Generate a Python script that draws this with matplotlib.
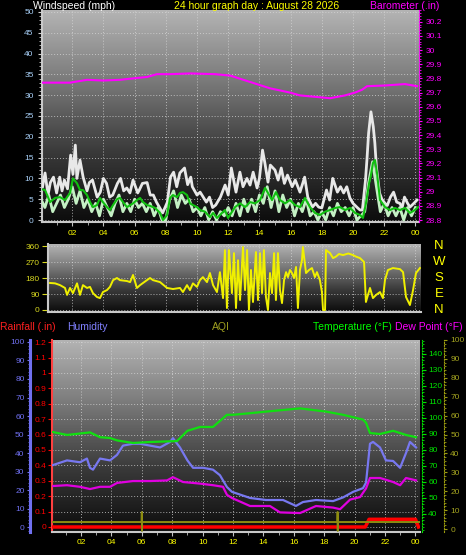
import matplotlib
matplotlib.use('Agg')
import matplotlib.pyplot as plt
import numpy as np
from matplotlib.colors import LinearSegmentedColormap
from matplotlib.ticker import MultipleLocator
import matplotlib.transforms as mtransforms

plt.rcParams['font.family'] = ['Liberation Sans', 'DejaVu Sans']

# ---------------- DATA ----------------
hour_ticks = [2, 4, 6, 8, 10, 12, 14, 16, 18, 20, 22, 24]
hour_labels = ['02', '04', '06', '08', '10', '12', '14', '16', '18', '20', '22', '00']

gust_h = [0.1, 0.26, 0.45, 0.6, 0.8, 1.0, 1.2, 1.35, 1.5, 1.7,
          1.9, 2.05, 2.2, 2.3, 2.5, 2.7, 2.95, 3.1, 3.3, 3.6,
          3.8, 4.0, 4.2, 4.4, 4.6, 4.9, 5.1, 5.3, 5.5, 5.7,
          5.9, 6.2, 6.3, 6.5, 6.8, 7.0, 7.2, 7.4, 7.6, 7.8,
          8.1, 8.3, 8.5, 8.7, 8.9, 9.2, 9.4, 9.6, 9.7, 10.0,
          10.2, 10.4, 10.6, 10.8, 11.0, 11.2, 11.5, 11.8, 12.0, 12.2,
          12.5, 12.75, 12.95, 13.2, 13.4, 13.6, 13.85, 14.0, 14.2, 14.35,
          14.55, 14.7, 15.0, 15.2, 15.4, 15.6, 15.8, 16.1, 16.3, 16.6,
          16.9, 17.1, 17.4, 17.6, 17.8, 18.0, 18.3, 18.5, 18.7, 19.0,
          19.2, 19.4, 19.6, 19.8, 20.0, 20.3, 20.45, 20.6, 20.8, 20.9,
          21.0, 21.15, 21.3, 21.4, 21.5, 21.7, 21.85, 22.05, 22.2, 22.4,
          22.6, 22.8, 23.0, 23.15, 23.3, 23.5, 23.65, 23.9, 24.1]
gust_mph = [8, 11.3, 6, 9, 10.3, 6.5, 10.3, 7, 9.6, 7.5,
            15.6, 11, 18, 10, 14.4, 10.3, 7, 9, 9.6, 5.5,
            6.7, 10, 8.8, 5.5, 6, 8.8, 10, 7, 7.7, 6.5,
            9.6, 6.5, 7.2, 8.8, 9, 6, 6, 4.3, 3, 1.7,
            4.3, 10.3, 11.5, 8, 11.3, 12.5, 8.5, 10.3, 8, 6,
            6.7, 5.5, 4.3, 5.5, 3, 3.6, 5.5, 8.4, 6, 12.5,
            6.7, 11.5, 8, 10, 8.4, 11.5, 7.7, 10, 16.8, 13.7,
            9.1, 13.2, 12, 9.6, 12.5, 8.8, 10.8, 8, 9.6, 6.7,
            10.3, 5.5, 3.1, 4, 3.1, 2.9, 7.2, 4.8, 10, 6.7,
            8, 6.5, 8, 5.3, 4, 2.9, 2.4, 2.4, 9.6, 14.9,
            20.9, 26, 22.4, 18.5, 12.7, 6.5, 5, 4, 3.5, 5.5,
            6.7, 4.3, 4, 3, 5.5, 4, 3.1, 4, 4.8]

speed_h = [0, 0.25, 0.5, 0.75, 1, 1.25, 1.5, 1.75, 2, 2.25,
           2.5, 2.75, 3, 3.25, 3.5, 3.75, 4, 4.25, 4.5, 4.75,
           5, 5.25, 5.5, 5.75, 6, 6.25, 6.5, 6.75, 7, 7.25,
           7.5, 7.75, 8, 8.25, 8.5, 8.75, 9, 9.25, 9.5, 9.75,
           10, 10.25, 10.5, 10.75, 11, 11.25, 11.5, 11.75, 12, 12.25,
           12.5, 12.75, 13, 13.25, 13.5, 13.75, 14, 14.25, 14.5, 14.75,
           15, 15.25, 15.5, 15.75, 16, 16.25, 16.5, 16.75, 17, 17.25,
           17.5, 17.75, 18, 18.25, 18.5, 18.75, 19, 19.25, 19.5, 19.75,
           20, 20.25, 20.5, 20.75, 21, 21.25, 21.5, 21.75, 22, 22.25,
           22.5, 22.75, 23, 23.25, 23.5, 23.75, 24]
speed_mph = [5, 3, 6, 2, 4, 6, 3, 5, 8, 4,
             7, 3, 5, 2, 4, 1, 5, 3, 1, 4,
             6, 2, 4, 2, 5, 3, 4, 2, 4, 1,
             3, 0, 0, 5, 7, 3, 6, 4, 5, 2,
             3, 1, 3, 0, 2, 0, 2, 1, 3, 1,
             4, 1, 5, 2, 5, 2, 6, 4, 8, 3,
             7, 2, 6, 3, 5, 1, 4, 2, 5, 1,
             2, 0, 2, 0, 3, 1, 4, 2, 3, 1,
             3, 0, 1, 2, 9, 14, 8, 2, 4, 1,
             3, 1, 3, 0, 3, 1, 3]

avg_h = [0.05, 0.26, 0.58, 0.9, 1.22, 1.54, 1.86, 2.05, 2.31, 2.5,
         2.69, 2.95, 3.14, 3.33, 3.59, 3.78, 3.97, 4.23, 4.42, 4.62,
         4.87, 5.06, 5.26, 5.51, 5.9, 6.15, 6.35, 6.54, 6.79, 6.99,
         7.31, 7.63, 7.82, 8.08, 8.27, 8.46, 8.72, 8.91, 9.1, 9.36,
         9.55, 9.74, 10.0, 10.19, 10.51, 10.83, 11.03, 11.28, 11.47, 11.79,
         11.99, 12.44, 12.76, 13.08, 13.4, 13.72, 14.04, 14.36, 14.55, 14.81,
         15.06, 15.32, 15.64, 15.96, 16.28, 16.6, 16.92, 17.24, 17.56, 17.88,
         18.21, 18.53, 18.85, 19.17, 19.49, 19.81, 20.13, 20.45, 20.64, 20.83,
         21.03, 21.15, 21.28, 21.41, 21.54, 21.73, 22.05, 22.37, 22.69, 23.01,
         23.33, 23.65, 23.97, 24.17]
avg_mph = [7.4, 7.2, 4.3, 5.3, 5.5, 4.8, 6.5, 10, 8.8, 7.2,
           7.2, 6, 4.3, 3.1, 3.6, 5.3, 4.3, 3.1, 2.4, 3.6,
           5, 5.3, 4.3, 3.1, 4, 4.8, 5.3, 4.3, 3.6, 3.4,
           2.9, 1.7, 0, 1.2, 5.3, 6, 5.5, 6.5, 6.7, 6,
           4, 3.6, 3.1, 2.4, 2, 0.7, 1.7, 0.5, 1.2, 2.4,
           0.5, 3.1, 4, 3.1, 4.3, 4, 4.8, 7.7, 6.5, 4.8,
           6.7, 4.8, 4, 4.8, 3.6, 3.1, 5.3, 3.1, 1.7, 1.2,
           2, 2.4, 2.9, 3.1, 2.4, 2.9, 1.7, 1.2, 0.5, 4,
           8.8, 10.8, 13.7, 14.4, 11.3, 4.8, 3.1, 2.4, 2.9, 2.4,
           2.9, 1.7, 2.4, 3.1]

baro_h = [0.13, 1.86, 2.95, 3.97, 5.06, 5.9, 6.79, 7.44, 8.27, 9.55,
          11.15, 12.12, 13.4, 14.68, 15.96, 16.6, 17.56, 18.53, 19.49, 20.13,
          20.58, 20.9, 22.05, 23.33, 24.1]
baro_in = [29.77, 29.77, 29.79, 29.785, 29.79, 29.80, 29.81, 29.83, 29.83, 29.835,
           29.83, 29.82, 29.775, 29.73, 29.70, 29.68, 29.67, 29.66, 29.68, 29.70,
           29.72, 29.745, 29.75, 29.76, 29.745]

dir_h = [0.58, 0.9, 1.22, 1.54, 1.67, 1.86, 2.05, 2.31, 2.5, 2.69,
         2.95, 3.14, 3.33, 3.59, 3.78, 3.97, 4.23, 4.42, 4.62, 4.87,
         5.06, 5.51, 5.71, 5.9, 6.15, 6.35, 6.79, 6.99, 7.18, 7.63,
         8.08, 8.46, 8.91, 9.1, 9.36, 9.55, 9.74, 10.0, 10.19, 10.38,
         10.64, 10.83, 11.03, 11.28, 11.47, 11.67, 11.79, 11.92, 12.05, 12.24,
         12.37, 12.5, 12.63, 12.76, 12.95, 13.08, 13.21, 13.33, 13.46, 13.59,
         13.78, 13.91, 14.04, 14.17, 14.29, 14.42, 14.55, 14.68, 14.81, 14.94,
         15.06, 15.19, 15.32, 15.45, 15.58, 15.71, 15.83, 15.96, 16.09, 16.22,
         16.35, 16.47, 16.6, 16.73, 16.79, 16.99, 17.18, 17.37, 17.56, 17.69,
         17.88, 18.01, 18.08, 18.21, 18.27, 18.53, 18.72, 18.9, 19.1, 19.36,
         19.7, 20.0, 20.2, 20.45, 20.71, 20.83, 21.09, 21.28, 21.47, 21.73,
         21.92, 22.05, 22.24, 22.56, 23.01, 23.21, 23.4, 23.65, 23.85, 24.04,
         24.29]
dir_deg = [152, 150, 140, 124, 85, 124, 95, 150, 85, 140,
           124, 130, 95, 73, 67, 101, 112, 130, 168, 180,
           168, 163, 157, 197, 124, 140, 168, 180, 168, 157,
           124, 118, 124, 101, 140, 112, 150, 130, 168, 185,
           157, 208, 140, 101, 213, 67, 337, 11, 337, 95,
           320, 11, 280, 56, 354, 112, 337, 0, 225, 45,
           326, 56, 320, 95, 337, 73, 0, 208, 95, 320,
           56, 320, 112, 39, 168, 213, 185, 225, 208, 180,
           242, 11, 225, 281, 354, 208, 225, 236, 185, 213,
           168, 101, 0, 0, 337, 320, 292, 300, 315, 309,
           318, 309, 300, 292, 270, 45, 124, 67, 84, 101,
           67, 168, 225, 236, 230, 213, 73, 28, 112, 208,
           236]
compass_labels = ['N', 'W', 'S', 'E', 'N']
compass_deg = [360, 270, 180, 90, 0]

temp_h = [0.16, 1.08, 2.59, 3.25, 3.91, 4.37, 5.42, 6.54, 8.32, 9.0,
          9.83, 10.68, 11.6, 12.0, 13.12, 14.17, 16.41, 18.12, 19.24, 20.55,
          20.75, 21.01, 21.67, 22.53, 23.38, 24.04]
temp_f = [91.2, 89.4, 91, 88, 87.5, 86, 84.4, 85, 85.6, 92,
          94.4, 94.4, 102, 102, 103, 104, 106, 104, 102, 99,
          97, 90.6, 90, 92, 89.4, 88]

dew_h = [0.16, 1.08, 1.93, 2.59, 3.25, 3.91, 4.37, 5.42, 6.54, 7.66,
         8.05, 8.71, 9.83, 10.68, 11.34, 11.6, 11.93, 13.12, 14.43, 15.09,
         16.41, 17.46, 18.58, 19.04, 19.7, 20.36, 20.75, 21.01, 21.67, 22.53,
         22.99, 23.38, 24.04]
dew_f = [57.5, 58, 57, 55.6, 57, 57, 59.4, 60.6, 60.6, 61,
         63, 60, 59, 58, 57, 52, 50, 45, 45, 41,
         40.6, 45, 44, 43, 49, 50.6, 56, 62.5, 62.5, 60,
         58, 62.5, 61]

hum_h = [0.16, 1.08, 1.93, 2.39, 2.59, 2.79, 3.25, 3.91, 4.37, 4.76,
         5.42, 5.88, 6.54, 7.2, 7.86, 8.05, 8.51, 9.0, 9.37, 10.03,
         10.68, 11.14, 11.6, 11.93, 13.12, 14.17, 15.29, 16.14, 16.6, 17.46,
         18.58, 19.24, 19.9, 20.55, 20.75, 21.01, 21.21, 21.67, 22.06, 22.53,
         22.99, 23.38, 23.64, 24.04]
hum_pct = [33.5, 36, 35, 37, 32, 31, 37, 36, 39, 44,
           45, 45, 44, 43, 46, 48, 43, 36, 32, 32,
           31, 28, 21.6, 19, 15.7, 14.6, 14.6, 11.4, 13.5, 14.6,
           14, 16, 19, 21, 24, 45, 46, 43, 36, 35.7,
           32, 40, 46, 43]

rain_h = [0.1, 20.7, 20.95, 24.0, 24.2]
rain_in = [0, 0, 0.05, 0.05, 0.0]

aqi_h = [0.1, 5.99, 6.0, 6.01, 6.02, 18.87, 18.88, 18.89, 18.9, 24.3]
aqi_val = [3.7, 3.7, 9, -1, 3.7, 3.7, 9, -1, 3.7, 3.7]

# ---------------- FIGURE ----------------
W, H = 466, 555
fig = plt.figure(figsize=(W / 100, H / 100), dpi=100, facecolor='black')


def rect(x0, y0, x1, y1):
    return [x0 / W, 1 - y1 / H, (x1 - x0) / W, (y1 - y0) / H]


gcmap = LinearSegmentedColormap.from_list('g', ['#0c0c0c', '#3a3a3a', '#7a7a7a', '#b4b4b4'])


def background(ax):
    grad = np.linspace(0, 1, 256).reshape(-1, 1)
    ax.imshow(grad, extent=[0, 1, 0, 1], transform=ax.transAxes, origin='lower',
              aspect='auto', cmap=gcmap, zorder=0)
    ax.set_facecolor('black')


GRID = dict(color='#d8d8d8', linestyle=(0, (1, 2)), linewidth=0.7, alpha=0.75)
TICKFONT = 6

# ---- top panel: wind + barometer ----
ax1 = fig.add_axes(rect(42, 10, 419, 222))
background(ax1)
ax1.set_xlim(0.064, 24.23)
ax1.set_ylim(-0.48, 50.48)
ax1.plot(gust_h, gust_mph, color='#e8e8e8', lw=2.0, zorder=3)
ax1.plot(speed_h, speed_mph, color='#c4f0c4', lw=2.0, zorder=4)
ax1.plot(avg_h, avg_mph, color='#10c010', lw=1.5, zorder=5)
ax1.set_yticks(range(0, 51, 5))
ax1.yaxis.set_minor_locator(MultipleLocator(1))
ax1.set_xticks(hour_ticks)
ax1.set_xticklabels(hour_labels)
ax1.xaxis.set_minor_locator(MultipleLocator(1))
ax1.tick_params(axis='y', which='major', colors='#d0d0d0', labelcolor='#a8d0f8',
                labelsize=TICKFONT, length=3, pad=3)
ax1.tick_params(axis='y', which='minor', colors='#d0d0d0', length=2)
ax1.tick_params(axis='x', which='major', colors='#c0c0c0', labelcolor='#ffff00',
                labelsize=TICKFONT, length=3, pad=2.5)
ax1.tick_params(axis='x', which='minor', colors='#c0c0c0', length=2)
for s in ['top', 'right']:
    ax1.spines[s].set_visible(False)
for s in ['left', 'bottom']:
    ax1.spines[s].set_color('#c8c8c8')
    ax1.spines[s].set_linewidth(1.5)
ax1.grid(True, which='major', **GRID)
ax1.set_axisbelow(False)

ax1b = ax1.twinx()
ax1b.set_ylim(28.786, 30.283)
ax1b.plot(baro_h, baro_in, color='#ff00ff', lw=1.5, zorder=6)
baro_ticks = [28.8, 28.9, 29.0, 29.1, 29.2, 29.3, 29.4, 29.5, 29.6, 29.7, 29.8, 29.9, 30.0, 30.1, 30.2]
ax1b.set_yticks(baro_ticks)
ax1b.set_yticklabels(['%g' % t for t in baro_ticks])
ax1b.yaxis.set_minor_locator(MultipleLocator(0.02))
ax1b.tick_params(axis='y', which='major', colors='#ff00ff', labelcolor='#ff00ff',
                 labelsize=TICKFONT, length=2, pad=2.5)
ax1b.tick_params(axis='y', which='minor', colors='#ff00ff', length=1.2)
for s in ['top', 'left', 'bottom']:
    ax1b.spines[s].set_visible(False)
ax1b.spines['right'].set_color('#ff00ff')
ax1b.spines['right'].set_linestyle((0, (1, 1.5)))

# ---- direction panel ----
ax2 = fig.add_axes(rect(48, 244, 421, 312))
background(ax2)
ax2.set_xlim(0.449, 24.36)
ax2.set_ylim(-11.25, 371.25)
ax2.plot(dir_h, dir_deg, color='#f0f000', lw=1.4, zorder=3)
ax2.set_yticks([0, 90, 180, 270, 360])
ax2.set_xticks(hour_ticks)
ax2.tick_params(axis='y', colors='#d8d820', labelcolor='#d8d820', labelsize=TICKFONT,
                length=4.5, pad=1.5)
ax2.tick_params(axis='x', length=0, labelbottom=False)
for s in ['top', 'right']:
    ax2.spines[s].set_visible(False)
for s in ['left', 'bottom']:
    ax2.spines[s].set_color('#c8c8c8')
    ax2.spines[s].set_linewidth(1.5)
ax2.grid(True, **GRID)
tr = mtransforms.blended_transform_factory(fig.transFigure, ax2.transData)
for lab, d in zip(compass_labels, compass_deg):
    ax2.text(439 / W, d, lab, transform=tr, color='#ffff00', fontsize=9.5,
             ha='center', va='center', clip_on=False)

# ---- bottom panel ----
ax3 = fig.add_axes(rect(52, 340, 420, 532))
background(ax3)
ax3.set_xlim(0.092, 24.30)
ax3.set_ylim(-0.0325, 1.214)
rain_ticks = [0, 0.1, 0.2, 0.3, 0.4, 0.5, 0.6, 0.7, 0.8, 0.9, 1.0, 1.1, 1.2]
ax3.set_yticks(rain_ticks)
ax3.set_yticklabels(['%g' % t for t in rain_ticks])
ax3.set_xticks(hour_ticks)
ax3.set_xticklabels(hour_labels)
ax3.xaxis.set_minor_locator(MultipleLocator(1))
ax3.tick_params(axis='y', colors='#ff0000', labelcolor='#ff0000', labelsize=TICKFONT,
                length=3, pad=1)
ax3.tick_params(axis='x', which='major', colors='#c0c0c0', labelcolor='#ffff00',
                labelsize=TICKFONT, length=3, pad=2)
ax3.tick_params(axis='x', which='minor', colors='#c0c0c0', length=2)
ax3.spines['top'].set_visible(False)
ax3.spines['right'].set_visible(False)
ax3.spines['bottom'].set_color('#c8c8c8')
ax3.spines['bottom'].set_linewidth(1.5)
ax3.spines['left'].set_color('#ff4040')
ax3.spines['left'].set_linestyle((0, (1, 1)))
ax3.spines['left'].set_linewidth(1.5)
ax3.grid(True, **GRID)

ax3h = ax3.twinx()
ax3h.set_ylim(-2.7, 101.08)
ax3h.yaxis.set_ticks_position('left')
ax3h.yaxis.set_label_position('left')
ax3h.spines['left'].set_position(('outward', 15.8))
ax3h.spines['left'].set_visible(True)
ax3h.spines['left'].set_color('#7070f0')
ax3h.spines['left'].set_linewidth(2.2)
for s in ['top', 'right', 'bottom']:
    ax3h.spines[s].set_visible(False)
ax3h.set_yticks(range(0, 101, 10))
ax3h.yaxis.set_minor_locator(MultipleLocator(2))
ax3h.tick_params(axis='y', which='major', colors='#7070f0', labelcolor='#7070f0',
                 labelsize=TICKFONT, length=2.5, pad=1.5, left=True, right=False,
                 labelleft=True, labelright=False)
ax3h.tick_params(axis='y', which='minor', colors='#7070f0', length=1.2, left=True, right=False)

ax3t = ax3.twinx()
ax3t.set_ylim(28.75, 148.75)
ax3t.spines['right'].set_position(('outward', 1.4))
ax3t.spines['right'].set_color('#00e000')
ax3t.spines['right'].set_linestyle((0, (1, 1.5)))
for s in ['top', 'left', 'bottom']:
    ax3t.spines[s].set_visible(False)
ax3t.set_yticks(range(40, 141, 10))
ax3t.yaxis.set_minor_locator(MultipleLocator(2))
ax3t.tick_params(axis='y', which='major', colors='#00e000', labelcolor='#00e000',
                 labelsize=TICKFONT, length=3, pad=1.5)
ax3t.tick_params(axis='y', which='minor', colors='#00e000', length=1.2)

ax3a = ax3.twinx()
ax3a.set_ylim(-1.58, 99.47)
ax3a.spines['right'].set_position(('outward', 17.3))
ax3a.spines['right'].set_color('#9c9c10')
ax3a.spines['right'].set_linestyle((0, (1, 1.5)))
for s in ['top', 'left', 'bottom']:
    ax3a.spines[s].set_visible(False)
ax3a.set_yticks(range(0, 101, 10))
ax3a.yaxis.set_minor_locator(MultipleLocator(2))
ax3a.tick_params(axis='y', which='major', colors='#9c9c10', labelcolor='#a4a420',
                 labelsize=TICKFONT, length=2, pad=2.5)
ax3a.tick_params(axis='y', which='minor', colors='#9c9c10', length=1.2)

# draw series
ax3a.plot(aqi_h, aqi_val, color='#8c8c10', lw=1.4, zorder=2)
ax3t.plot(dew_h, dew_f, color='#e000e0', lw=1.6, zorder=3)
ax3h.plot(hum_h, hum_pct, color='#7878f0', lw=1.6, zorder=3)
ax3t.plot(temp_h, temp_f, color='#10e010', lw=1.6, zorder=4)
ax3.plot(rain_h, rain_in, color='#ff0000', lw=2.5, zorder=5)


# ---- texts ----
def ftext(x, y, s, color, size=7.5, ha='left'):
    fig.text(x / W, 1 - y / H, s, color=color, fontsize=size, ha=ha, va='center')


ftext(33, 6, 'Windspeed (mph)', '#ffffff')
ftext(257, 6, '24 hour graph day : August 28 2026', '#ffff00', ha='center')
ftext(439, 6, 'Barometer (.in)', '#ff00ff', ha='right')
ftext(0, 327, 'Rainfall (.in)', '#ff2020')
ftext(67, 327, 'Humidity', '#8080ff')
ftext(212, 327, 'AQI', '#a0a020')
ftext(313, 327, 'Temperature (\u00b0F)', '#00ff00')
ftext(395, 327, 'Dew Point (\u00b0F)', '#ff00ff')

fig.savefig('out.png', dpi=100, facecolor='black')
